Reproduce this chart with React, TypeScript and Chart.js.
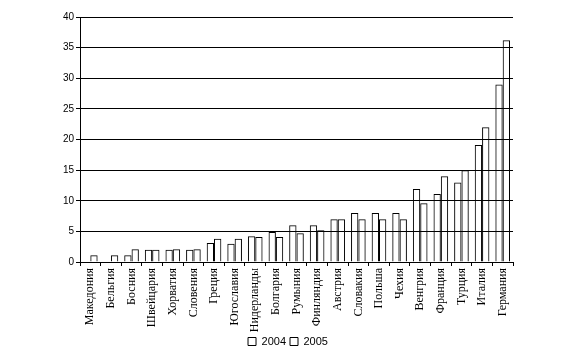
import React, { useEffect, useRef } from "react";
import { Chart, registerables } from "chart.js";

Chart.register(...registerables);

const categories = ["Македония","Бельгия","Босния","Швейцария","Хорватия","Словения","Греция","Югославия","Нидерланды","Болгария","Румыния","Финляндия","Австрия","Словакия","Польша","Чехия","Венгрия","Франция","Турция","Италия","Германия"];
const values2004 = [0, 0, 1.1, 2, 2, 2, 3.1, 3, 4.2, 4.9, 6, 6, 7, 8, 8, 8, 11.9, 11.1, 13, 19.1, 29];
const values2005 = [1.1, 1.1, 2.1, 2, 2.1, 2.1, 3.8, 3.8, 4.1, 4.1, 4.7, 5.2, 7, 7, 7, 7, 9.6, 14, 15, 22, 36.2];
const yTicks = [0, 5, 10, 15, 20, 25, 30, 35, 40];
const seriesLabels = ["2004", "2005"];

export default function App() {
  const ref = useRef<HTMLCanvasElement | null>(null);
  useEffect(() => {
    if (!ref.current) return;
    const chart = new Chart(ref.current, {
      type: "bar",
      data: {
        labels: categories,
        datasets: [
          { label: seriesLabels[0], data: values2004, yAxisID: "y", backgroundColor: "rgba(255,255,255,0)", borderColor: "#000000", borderWidth: 1 },
          { label: seriesLabels[1], data: values2005, yAxisID: "y", backgroundColor: "rgba(255,255,255,0)", borderColor: "#000000", borderWidth: 1 },
        ],
      },
      options: {
        responsive: false,
        animation: false,
        layout: { padding: { left: 0, right: 0, top: 17, bottom: 0 } },
        datasets: { bar: { categoryPercentage: 0.71, barPercentage: 1 } },
        plugins: {
          legend: {
            position: "bottom",
            labels: {
              boxWidth: 8,
              boxHeight: 8,
              padding: 4,
              color: "#000",
              font: { family: "Liberation Sans", size: 11 },
            },
          },
          tooltip: { enabled: false },
        },
        scales: {
          x: {
            grid: { display: true, drawOnChartArea: false, drawTicks: true, tickLength: 4, color: "#000", offset: true },
            border: { color: "#000", width: 1 },
            ticks: {
              autoSkip: false,
              minRotation: 90,
              maxRotation: 90,
              padding: 2,
              color: "#000",
              font: { family: "Liberation Serif", size: 12 },
            },
            afterFit: (s: any) => { s.height = 70; },
          },
          y: {
            position: "left",
            min: 0,
            max: 40,
            afterBuildTicks: (s: any) => { s.ticks = yTicks.map((v) => ({ value: v })); },
            grid: { color: "#000", lineWidth: 1, drawTicks: true, tickLength: 4 },
            border: { color: "#000", width: 1 },
            ticks: {
              padding: 2,
              color: "#000",
              font: { family: "Liberation Sans", size: 10 },
            },
            afterFit: (s: any) => { s.width = 80; },
          },
          y1: {
            position: "right",
            min: 0,
            max: 40,
            grid: { display: false, drawTicks: false },
            border: { display: false },
            ticks: { display: false },
            afterFit: (s: any) => { s.width = 63; },
          },
        },
      },
    });
    return () => chart.destroy();
  }, []);
  return (
    <div style={{ position: "absolute", left: 0, top: 0, width: 576, height: 357, background: "#fff" }}>
      <canvas ref={ref} width={576} height={357} style={{ width: 576, height: 357 }} />
    </div>
  );
}
